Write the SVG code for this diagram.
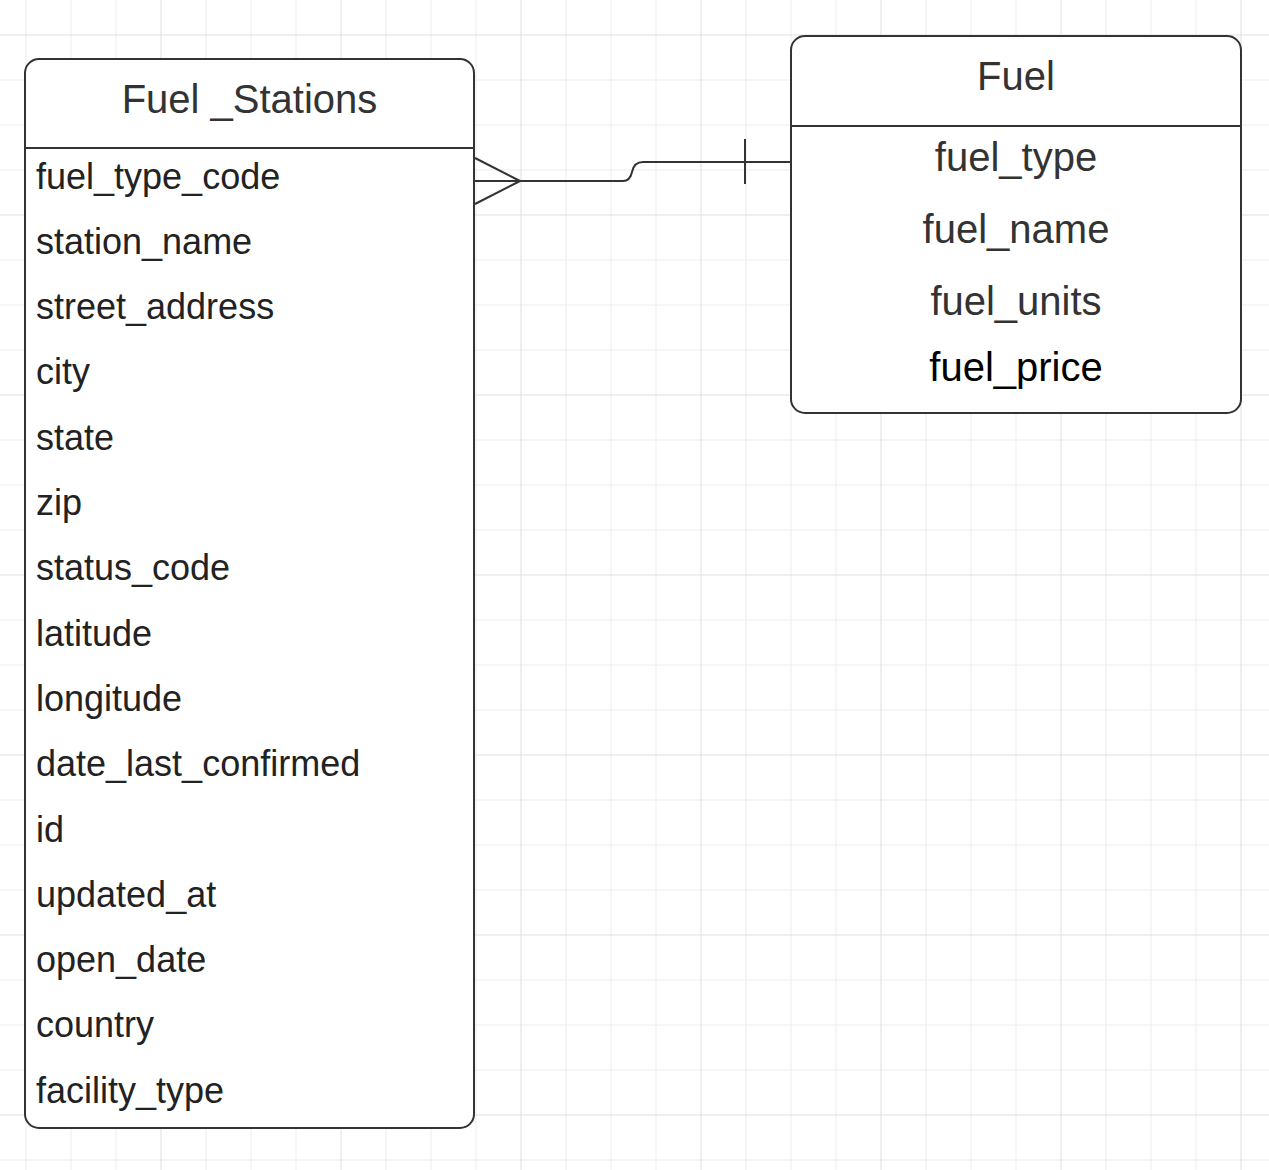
<svg xmlns="http://www.w3.org/2000/svg" width="1269" height="1170" viewBox="0 0 1269 1170">
<style>
.box{fill:#fff;stroke:#333;stroke-width:2}
.sep{stroke:#333;stroke-width:2}
.hdr{font-family:"Liberation Sans",Arial,sans-serif;font-size:40px;fill:#333;text-anchor:middle}
.fld{font-family:"Liberation Sans",Arial,sans-serif;font-size:36px;fill:#222}
.fld2{font-family:"Liberation Sans",Arial,sans-serif;font-size:40px;fill:#333;text-anchor:middle}
.conn{fill:none;stroke:#333;stroke-width:2}
</style>
<defs>
<pattern id="grid" patternUnits="userSpaceOnUse" x="25.5" y="34.5" width="180" height="180">
<rect x="0" y="0" width="1" height="180" fill="#ececec"/>
<rect x="45" y="0" width="1" height="180" fill="#ececec"/>
<rect x="90" y="0" width="1" height="180" fill="#ececec"/>
<rect x="0" y="45" width="180" height="1" fill="#ececec"/>
<rect x="0" y="90" width="180" height="1" fill="#ececec"/>
<rect x="0" y="135" width="180" height="1" fill="#ececec"/>
<rect x="135" y="0" width="1" height="180" fill="#dedede"/>
<rect x="0" y="0" width="180" height="1" fill="#dedede"/>
</pattern>
</defs>
<rect width="1269" height="1170" fill="#fff"/>
<rect width="1269" height="1170" fill="url(#grid)"/>
<g id="connectors">
<path class="conn" d="M475,158 L520,181 M475,181 L520,181 M475,204 L520,181"/>
<path class="conn" d="M520,181 L623,181 Q630,181 632,172 Q634,162 643,162 L791,162"/>
<path class="conn" d="M745,139 L745,184"/>
</g>
<g id="fuel_stations">
<rect class="box" x="25" y="59" width="449" height="1069" rx="14"/>
<line class="sep" x1="25" y1="148" x2="474" y2="148"/>
<text class="hdr" x="249.5" y="113">Fuel _Stations</text>
<text class="fld" x="36" y="188.5">fuel_type_code</text>
<text class="fld" x="36" y="253.8">station_name</text>
<text class="fld" x="36" y="319.1">street_address</text>
<text class="fld" x="36" y="384.4">city</text>
<text class="fld" x="36" y="449.7">state</text>
<text class="fld" x="36" y="515">zip</text>
<text class="fld" x="36" y="580.3">status_code</text>
<text class="fld" x="36" y="645.6">latitude</text>
<text class="fld" x="36" y="710.9">longitude</text>
<text class="fld" x="36" y="776.2">date_last_confirmed</text>
<text class="fld" x="36" y="841.5">id</text>
<text class="fld" x="36" y="906.8">updated_at</text>
<text class="fld" x="36" y="972.1">open_date</text>
<text class="fld" x="36" y="1037.4">country</text>
<text class="fld" x="36" y="1102.7">facility_type</text>
</g>
<g id="fuel">
<rect class="box" x="791" y="36" width="450" height="377" rx="14"/>
<line class="sep" x1="791" y1="126" x2="1241" y2="126"/>
<text class="hdr" x="1016" y="90">Fuel</text>
<text class="fld2" x="1016" y="171">fuel_type</text>
<text class="fld2" x="1016" y="243">fuel_name</text>
<text class="fld2" x="1016" y="315">fuel_units</text>
<text class="fld2" x="1016" y="381" style="fill:#000">fuel_price</text>
</g>
</svg>
